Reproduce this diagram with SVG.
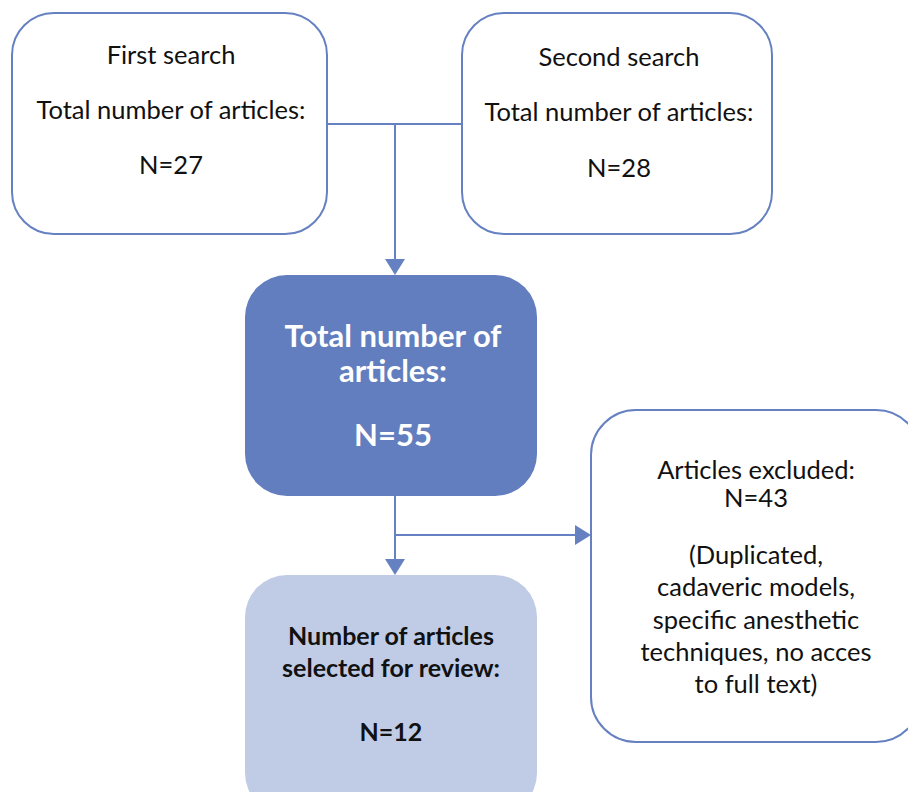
<svg xmlns="http://www.w3.org/2000/svg" width="908" height="792" viewBox="0 0 908 792">
<style>
.box{fill:#ffffff;stroke:#6581c1;stroke-width:2}
.dark{fill:#627ebe}
.light{fill:#c0cce6}
.t{font-family:Lato,"Noto Sans",sans-serif;fill:#111;text-anchor:middle}
.w{fill:#ffffff;font-weight:bold}
.b{font-weight:bold}
.ln{stroke:#6581c1;stroke-width:2;fill:none}
.ah{fill:#6581c1}
</style>
<rect width="908" height="792" fill="#fff"/>
<g id="connectors">
<path class="ln" d="M327 124H462M395 124V262"/>
<polygon class="ah" points="385,259 405,259 395,275"/>
<path class="ln" d="M395 495V562M395 535H577"/>
<polygon class="ah" points="385,559 405,559 395,575"/>
<polygon class="ah" points="575,525 575,545 591,535"/>
</g>
<g id="first-search">
<rect class="box" x="12" y="13" width="315" height="221" rx="42"/>
<text class="t" font-size="25.5" x="171" y="64">First  search</text>
<text class="t" font-size="25.5" x="171" y="119">Total number of articles:</text>
<text class="t" font-size="25.5" x="171" y="174">N=27</text>
</g>
<g id="second-search">
<rect class="box" x="462" y="13" width="310" height="221" rx="42"/>
<text class="t" font-size="25.5" x="619" y="66">Second  search</text>
<text class="t" font-size="25.5" x="619" y="121">Total number of articles:</text>
<text class="t" font-size="25.5" x="619" y="177">N=28</text>
</g>
<g id="total">
<rect class="dark" x="245" y="275" width="292" height="221" rx="42"/>
<text class="t w" font-size="31" x="393" y="347">Total number of</text>
<text class="t w" font-size="31" x="393" y="382">articles:</text>
<text class="t w" font-size="31" x="393" y="446">N=55</text>
</g>
<g id="selected">
<rect class="light" x="245" y="575" width="292" height="240" rx="42"/>
<text class="t b" font-size="25" x="391" y="645">Number of articles</text>
<text class="t b" font-size="25" x="391" y="677">selected for review:</text>
<text class="t b" font-size="25" x="391" y="741">N=12</text>
</g>
<g id="excluded">
<rect class="box" x="591" y="410" width="330" height="332" rx="45"/>
<text class="t" font-size="25.5" x="756" y="479">Articles excluded:</text>
<text class="t" font-size="25.5" x="756" y="507">N=43</text>
<text class="t" font-size="25.5" x="756" y="564">(Duplicated,</text>
<text class="t" font-size="25.5" x="756" y="596">cadaveric models,</text>
<text class="t" font-size="25.5" x="756" y="629">specific anesthetic</text>
<text class="t" font-size="25.5" x="756" y="661">techniques, no acces</text>
<text class="t" font-size="25.5" x="756" y="693">to full text)</text>
</g>
</svg>
